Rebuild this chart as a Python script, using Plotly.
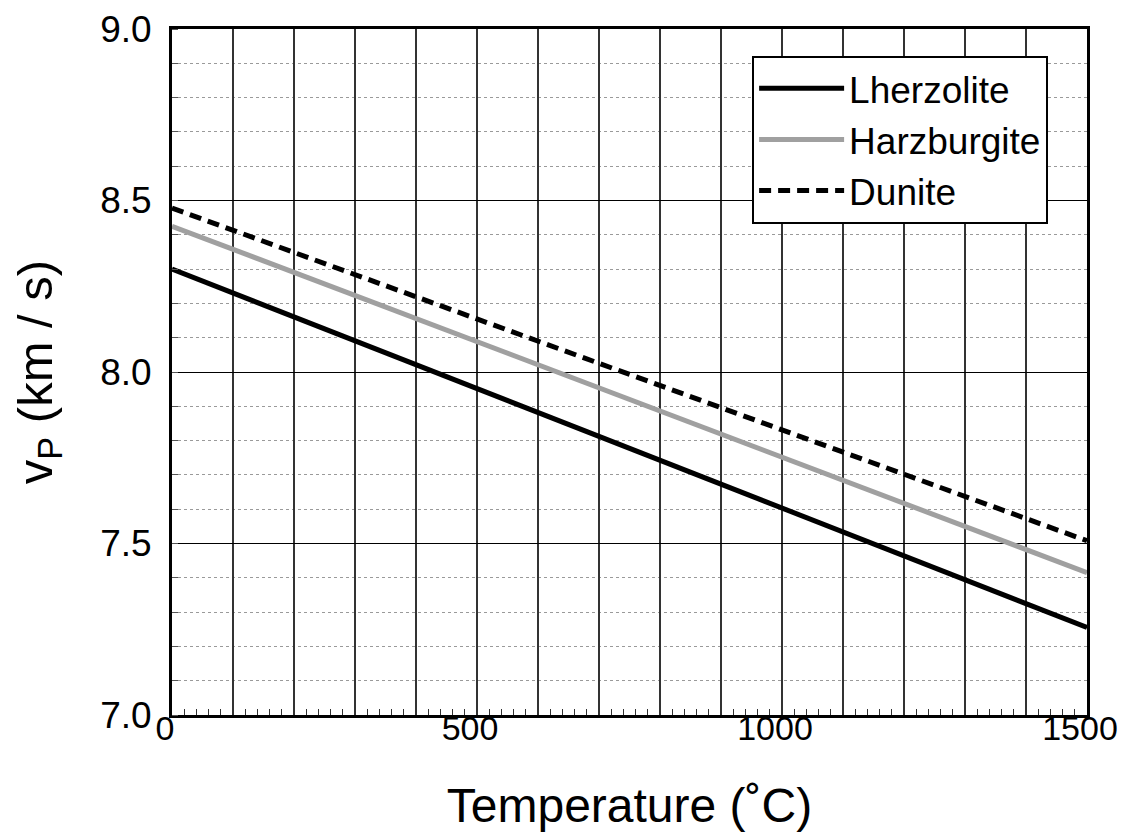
import plotly.graph_objects as go

temperature = [0, 1500]
lherzolite = [8.30, 7.255]
harzburgite = [8.425, 7.415]
dunite = [8.478, 7.508]

x_tick_vals = [0, 500, 1000, 1500]
x_tick_text = ["0", "500", "1000", "1500"]
y_tick_vals = [7.0, 7.5, 8.0, 8.5, 9.0]
y_tick_text = ["7.0", "7.5", "8.0", "8.5", "9.0"]

FONT = "Liberation Sans, Arial, Helvetica, sans-serif"

fig = go.Figure()
fig.add_trace(go.Scatter(x=temperature, y=lherzolite, mode="lines", name="Lherzolite",
                         line=dict(color="black", width=5)))
fig.add_trace(go.Scatter(x=temperature, y=harzburgite, mode="lines", name="Harzburgite",
                         line=dict(color="#a0a0a0", width=5)))
fig.add_trace(go.Scatter(x=temperature, y=dunite, mode="lines", name="Dunite", xaxis="x2",
                         line=dict(color="black", width=5, dash="12px,7px")))

fig.update_layout(
    width=1120, height=824,
    margin=dict(l=164, r=41, t=21, b=117),
    paper_bgcolor="white", plot_bgcolor="white",
    font=dict(family=FONT, color="black"),
    showlegend=True,
    legend=dict(x=0.634, y=0.961, xanchor="left", yanchor="top",
                bgcolor="white", bordercolor="black", borderwidth=2,
                font=dict(size=37, family=FONT), tracegroupgap=0,
                itemwidth=85, entrywidth=228, entrywidthmode="pixels"),
    # grid axis: vertical lines every 100, small inside ticks every 20
    xaxis=dict(
        range=[0, 1500], automargin=False,
        tickmode="linear", tick0=0, dtick=100,
        ticks="", showticklabels=False,
        showgrid=True, gridcolor="#333333", gridwidth=1.5,
        showline=True, linecolor="black", linewidth=3, mirror=True,
        zeroline=False,
        minor=dict(dtick=20, tick0=0, ticks="inside", ticklen=6, tickcolor="#333333",
                   tickwidth=1, showgrid=False),
    ),
    # label axis: 0, 500, 1000, 1500
    xaxis2=dict(
        overlaying="x", side="bottom", range=[0, 1500], automargin=False,
        tickmode="array", tickvals=x_tick_vals, ticktext=x_tick_text,
        ticks="", tickfont=dict(size=34), ticklabelstandoff=-10,
        ticklabelshift=-7, ticklabeloverflow="allow",
        showgrid=False, showline=False, zeroline=False,
        title=dict(text="Temperature (˚C)", font=dict(size=48), standoff=48),
    ),
    yaxis=dict(
        range=[7.0, 9.0], automargin=False,
        tickmode="array", tickvals=y_tick_vals, ticktext=y_tick_text,
        ticks="", tickfont=dict(size=37), ticklabelstandoff=10,
        showgrid=True, gridcolor="black", gridwidth=1,
        showline=True, linecolor="black", linewidth=3, mirror=True,
        zeroline=False,
        minor=dict(dtick=0.1, tick0=7.0, ticks="inside", ticklen=6, tickcolor="#555555",
                   showgrid=True, gridcolor="#9a9a9a", gridwidth=1, griddash="dot"),
        title=dict(text="v<sub>P</sub> (km / s)", font=dict(size=49), standoff=45),
    ),
)

fig.write_html("out.html")
